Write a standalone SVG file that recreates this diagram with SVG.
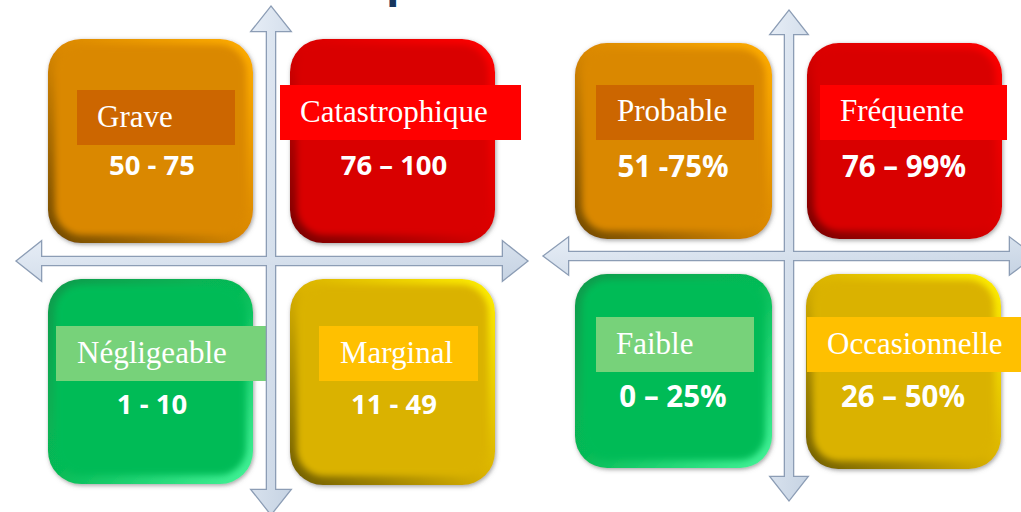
<svg xmlns="http://www.w3.org/2000/svg" width="1021" height="512" viewBox="0 0 1021 512">
<style>
.lbl{font-family:"Liberation Serif","Times New Roman",serif;font-size:31px;fill:#ffffff}
.numL{font-family:"Open Sans","Noto Sans",sans-serif;font-weight:bold;font-size:27.5px;fill:#ffffff;text-anchor:middle}
.numR{font-family:"Open Sans","Noto Sans",sans-serif;font-weight:bold;font-size:29.5px;fill:#ffffff;text-anchor:middle}
.axO{fill:none;stroke:#8c9db5;stroke-width:2.6;stroke-linejoin:miter}
.axF{fill:url(#gAx);stroke:none}
.inner{filter:url(#soft)}
.outer{filter:url(#shadow)}
</style>
<defs>
<filter id="shadow" x="-10%" y="-10%" width="120%" height="120%">
<feDropShadow dx="1" dy="1.5" stdDeviation="2" flood-color="#555" flood-opacity="0.55"/>
</filter>
<filter id="soft" x="-10%" y="-10%" width="120%" height="120%">
<feGaussianBlur stdDeviation="3"/>
</filter>
<linearGradient id="gAx" x1="0" y1="0" x2="1" y2="1">
<stop offset="0" stop-color="#e6edf6"/>
<stop offset="1" stop-color="#c6d3e3"/>
</linearGradient>
<linearGradient id="gOr" x1="1" y1="0" x2="0" y2="1">
<stop offset="0" stop-color="#ffae00"/>
<stop offset="0.5" stop-color="#da8800"/>
<stop offset="1" stop-color="#6e4800"/>
</linearGradient>
<linearGradient id="gRd" x1="1" y1="0" x2="0" y2="1">
<stop offset="0" stop-color="#ff0000"/>
<stop offset="0.5" stop-color="#d90000"/>
<stop offset="1" stop-color="#780000"/>
</linearGradient>
<linearGradient id="gGr" x1="0" y1="0" x2="1" y2="1">
<stop offset="0" stop-color="#0a9a4c"/>
<stop offset="0.5" stop-color="#06bb57"/>
<stop offset="1" stop-color="#45f59a"/>
</linearGradient>
<linearGradient id="gYe" x1="1" y1="0" x2="0" y2="1">
<stop offset="0" stop-color="#fff000"/>
<stop offset="0.5" stop-color="#dab200"/>
<stop offset="1" stop-color="#6e5c00"/>
</linearGradient>
</defs>
<rect width="1021" height="512" fill="#ffffff"/>
<text x="386" y="-4" font-family="Open Sans, sans-serif" font-weight="bold" font-size="44" fill="#17375e">p</text>

<g id="grave">
<rect class="outer" x="48" y="39" width="205" height="204" rx="33" fill="url(#gOr)"/>
<rect class="inner" x="55" y="45" width="191" height="190" rx="27" fill="#da8800"/>
<rect x="77" y="90" width="158" height="55" fill="#cc6600"/>
<text class="lbl" x="97" y="127">Grave</text>
<text class="numL" x="152" y="175">50 - 75</text>
</g>
<g id="catastrophique">
<rect class="outer" x="290" y="39" width="205" height="204" rx="33" fill="url(#gRd)"/>
<rect class="inner" x="297" y="45" width="191" height="190" rx="27" fill="#d90000"/>
<rect x="280" y="85" width="241" height="55" fill="#ff0000"/>
<text class="lbl" x="300" y="122">Catastrophique</text>
<text class="numL" x="394" y="175">76 – 100</text>
</g>
<g id="negligeable">
<rect class="outer" x="48" y="279" width="205" height="205" rx="33" fill="url(#gGr)"/>
<rect class="inner" x="55" y="285" width="191" height="190" rx="27" fill="#06bb57"/>
<rect x="56" y="326" width="214" height="55" fill="#77d27a"/>
<text class="lbl" x="77" y="363">Négligeable</text>
<text class="numL" x="152" y="414">1 - 10</text>
</g>
<g id="marginal">
<rect class="outer" x="290" y="279" width="205" height="206" rx="33" fill="url(#gYe)"/>
<rect class="inner" x="297" y="285" width="191" height="191" rx="27" fill="#dab200"/>
<rect x="319" y="326" width="159" height="55" fill="#ffc000"/>
<text class="lbl" x="340" y="363">Marginal</text>
<text class="numL" x="394" y="414">11 - 49</text>
</g>

<g id="probable">
<rect class="outer" x="575" y="43" width="197" height="196" rx="32" fill="url(#gOr)"/>
<rect class="inner" x="582" y="49" width="183" height="182" rx="26" fill="#da8800"/>
<rect x="596" y="85" width="158" height="55" fill="#cc6600"/>
<text class="lbl" x="617" y="121">Probable</text>
<text class="numR" x="673" y="177">51 -75%</text>
</g>
<g id="frequente">
<rect class="outer" x="807" y="43" width="195" height="196" rx="32" fill="url(#gRd)"/>
<rect class="inner" x="814" y="49" width="181" height="182" rx="26" fill="#d90000"/>
<rect x="820" y="85" width="187" height="55" fill="#ff0000"/>
<text class="lbl" x="840" y="121">Fréquente</text>
<text class="numR" x="904" y="177">76 – 99%</text>
</g>
<g id="faible">
<rect class="outer" x="575" y="274" width="197" height="194" rx="32" fill="url(#gGr)"/>
<rect class="inner" x="582" y="280" width="183" height="180" rx="26" fill="#06bb57"/>
<rect x="596" y="317" width="158" height="55" fill="#77d27a"/>
<text class="lbl" x="616" y="354">Faible</text>
<text class="numR" x="673" y="407">0 – 25%</text>
</g>
<g id="occasionnelle">
<rect class="outer" x="806" y="274" width="195" height="195" rx="32" fill="url(#gYe)"/>
<rect class="inner" x="813" y="280" width="181" height="181" rx="26" fill="#dab200"/>
<rect x="807" y="317" width="214" height="55" fill="#ffc000"/>
<text class="lbl" x="827" y="354">Occasionnelle</text>
<text class="numR" x="903" y="407">26 – 50%</text>
</g>

<g id="connectors">
<path class="axO" d="M271,7 L290,31 L275,31 L275,490 L290,490 L271,514 L252,490 L267,490 L267,31 L252,31 Z"/>
<path class="axO" d="M17,261 L41,242 L41,257 L503,257 L503,242 L527,261 L503,280 L503,265 L41,265 L41,280 Z"/>
<path class="axF" d="M271,7 L290,31 L275,31 L275,490 L290,490 L271,514 L252,490 L267,490 L267,31 L252,31 Z"/>
<path class="axF" d="M17,261 L41,242 L41,257 L503,257 L503,242 L527,261 L503,280 L503,265 L41,265 L41,280 Z"/>
<path class="axO" d="M789,11 L807,34 L793,34 L793,477 L807,477 L789,500 L771,477 L785,477 L785,34 L771,34 Z"/>
<path class="axO" d="M544,256 L568,238 L568,252 L1010,252 L1010,238 L1034,256 L1010,274 L1010,260 L568,260 L568,274 Z"/>
<path class="axF" d="M789,11 L807,34 L793,34 L793,477 L807,477 L789,500 L771,477 L785,477 L785,34 L771,34 Z"/>
<path class="axF" d="M544,256 L568,238 L568,252 L1010,252 L1010,238 L1034,256 L1010,274 L1010,260 L568,260 L568,274 Z"/>
</g>
</svg>
